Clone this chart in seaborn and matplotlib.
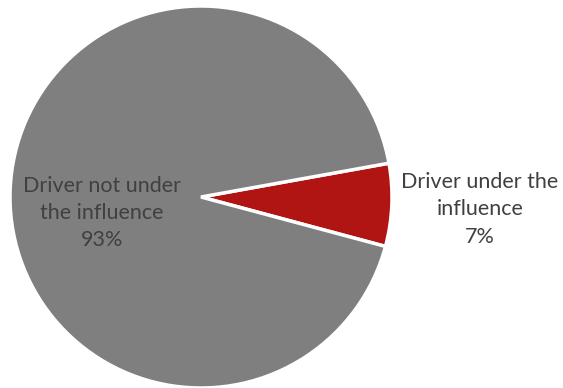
import matplotlib
matplotlib.use("Agg")
import matplotlib.pyplot as plt
import seaborn as sns

labels = ["Driver under the\ninfluence", "Driver not under\nthe influence"]
shares = [7, 93]
colors = ["#b01513", "#7f7f7f"]

sns.set_theme(style="white")
plt.rcParams['font.family'] = ['Lato', 'DejaVu Sans']

fig = plt.figure(figsize=(5.63, 3.88), dpi=100)
# pie centre ~ (201, 197) px, radius ~191 px
ax = fig.add_axes([10 / 563, 0 / 388, 382 / 563, 382 / 388])

wedges, _ = ax.pie(shares, colors=colors, startangle=-15, counterclock=True,
                   radius=1.0, wedgeprops=dict(edgecolor="white", linewidth=2.5))
ax.set_xlim(-1, 1)
ax.set_ylim(-1, 1)
ax.set_aspect("equal")

# label positions in data units
label_pos = [(1.461, -0.065), (-0.518, -0.084)]
for lab, val, (x, y) in zip(labels, shares, label_pos):
    ax.text(x, y, f"{lab}\n{val}%", ha="center", va="center", color="#404040",
            fontsize=15.5, linespacing=1.45, clip_on=False)

ax.axis("off")
fig.savefig("out.png", dpi=100, facecolor="white")
